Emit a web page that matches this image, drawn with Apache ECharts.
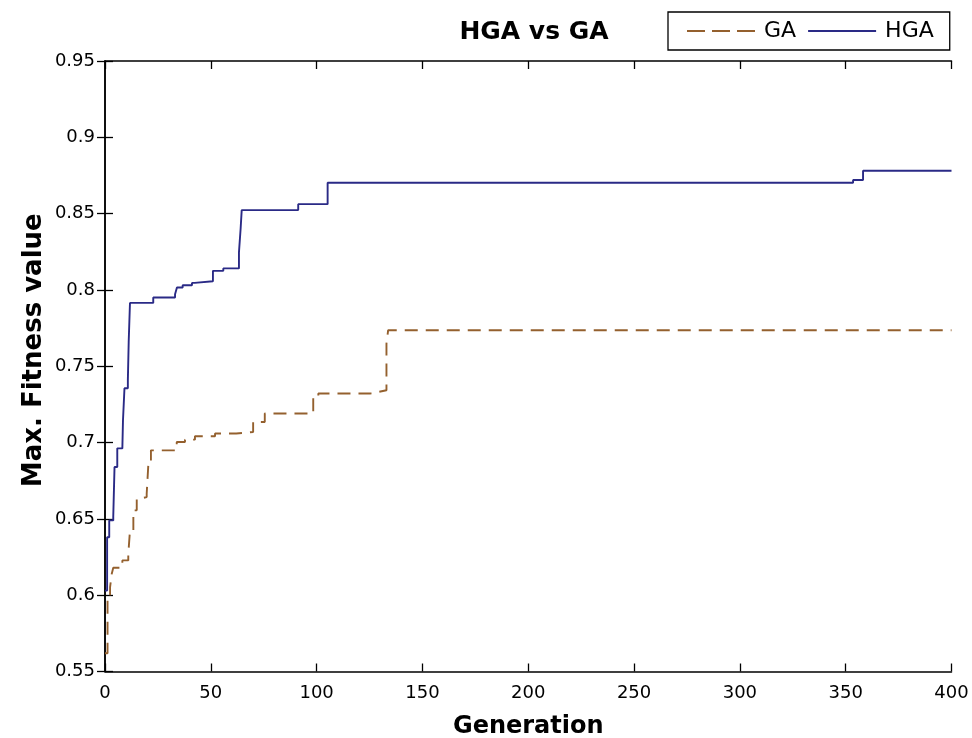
<!DOCTYPE html>
<html>
<head>
<meta charset="utf-8">
<script src="https://cdn.jsdelivr.net/npm/echarts@6/dist/echarts.min.js"></script>
<style>html,body{margin:0;padding:0;background:#fff}#c{width:972px;height:738px}</style>
</head>
<body>
<div id="c"></div>
<script>
var title = 'HGA vs GA';
var xName = 'Generation';
var yName = 'Max. Fitness value';
var seriesNames = ['GA', 'HGA'];

// HGA: generation at which value changes, and new value
var hgaGen = [0, 1, 2, 3.9, 4.5, 5.8, 8.2, 8.5, 9.2, 10.8, 11.2, 11.8, 22.8, 33.1, 34.0, 36.7, 41.1, 42.4, 51, 55.9, 63.3, 64.1, 64.6, 91.3, 105.2, 353.5, 358.2, 400];
var hgaVal = [0.603, 0.638, 0.649, 0.6512, 0.684, 0.6962, 0.6971, 0.7146, 0.7356, 0.7408, 0.766, 0.7915, 0.795, 0.7972, 0.8016, 0.8031, 0.8046, 0.8057, 0.8125, 0.8141, 0.8246, 0.8404, 0.8523, 0.8562, 0.8702, 0.872, 0.8781, 0.8781];

// GA: generation at which value changes, and new value
var gaGen = [0, 1.2, 2.4, 3.2, 3.9, 8.2, 11, 11.8, 13.4, 15, 16.5, 19.7, 20.5, 21.7, 33.9, 37.8, 42.5, 52, 62, 70, 75.5, 98.4, 100.8, 125.2, 129.1, 133, 133.8, 400];
var gaVal = [0.562, 0.5987, 0.6053, 0.6141, 0.618, 0.6228, 0.6267, 0.6425, 0.6556, 0.6632, 0.6643, 0.6665, 0.6862, 0.6949, 0.7004, 0.7019, 0.7041, 0.7059, 0.7069, 0.7135, 0.719, 0.7299, 0.7321, 0.7331, 0.7343, 0.7649, 0.7736, 0.7736];

var xMin = 0, xMax = 400, xStep = 50;
var yMin = 0.55, yMax = 0.95, yStep = 0.05;

function pairs(xs, ys) { return xs.map(function (x, i) { return [x, ys[i]]; }); }

var FONT = 'DejaVu Sans';
var GA_COLOR = '#94602e';
var HGA_COLOR = '#2a2a86';
var axisCommon = {
  type: 'value',
  splitLine: { show: false },
  axisLine: { show: true, lineStyle: { color: '#000', width: 1.5 } },
  axisTick: { show: true, inside: true, length: 8, lineStyle: { color: '#000', width: 1.3 } }
};

var chart = echarts.init(document.getElementById('c'), null, { renderer: 'canvas' });
chart.setOption({
  animation: false,
  backgroundColor: '#fff',
  title: {
    text: title, left: 529, top: 15, textAlign: 'center',
    textStyle: { fontFamily: FONT, fontSize: 25, fontWeight: 'bold', color: '#000' }
  },
  legend: {
    left: 668, top: 12,
    padding: [8, 16, 8, 19],
    itemWidth: 68, itemHeight: 2, itemGap: 12,
    borderColor: '#000', borderWidth: 1.3,
    data: [
      { name: seriesNames[0], icon: 'path://M0,0h18v2h-18z M25,0h18v2h-18z M50,0h18v2h-18z', itemStyle: { color: GA_COLOR } },
      { name: seriesNames[1], icon: 'path://M0,0h68v2h-68z', itemStyle: { color: HGA_COLOR } }
    ],
    textStyle: { fontFamily: FONT, fontSize: 22, color: '#000', padding: [0, 0, 0, 4] }
  },
  grid: { left: 105, right: 20.5, top: 61, bottom: 66.5, containLabel: false, outerBoundsMode: 'none' },
  xAxis: [
    Object.assign({}, axisCommon, {
      position: 'bottom', min: xMin, max: xMax, interval: xStep,
      name: xName, nameLocation: 'middle', nameGap: 43, nameMoveOverlap: false,
      nameTextStyle: { fontFamily: FONT, fontSize: 24, fontWeight: 'bold', color: '#000' },
      axisLabel: { color: '#000', fontFamily: FONT, fontSize: 18, margin: 13 }
    }),
    Object.assign({}, axisCommon, {
      position: 'top', min: xMin, max: xMax, interval: xStep,
      axisLabel: { show: false }
    })
  ],
  yAxis: [
    Object.assign({}, axisCommon, {
      position: 'left', min: yMin, max: yMax, interval: yStep,
      name: yName, nameLocation: 'middle', nameGap: 58, nameMoveOverlap: false,
      nameTextStyle: { fontFamily: FONT, fontSize: 26, fontWeight: 'bold', color: '#000', padding: [0, 0, 0, 32] },
      axisLabel: {
        color: '#000', fontFamily: FONT, fontSize: 18, margin: 10,
        formatter: function (v) { return String(Math.round(v * 100) / 100); }
      }
    }),
    Object.assign({}, axisCommon, {
      position: 'right', min: yMin, max: yMax, interval: yStep,
      axisLabel: { show: false }
    })
  ],
  series: [
    {
      name: 'GA', type: 'line', step: 'end', symbol: 'none', xAxisIndex: 0, yAxisIndex: 0,
      data: pairs(gaGen, gaVal),
      lineStyle: { color: GA_COLOR, width: 1.9, type: [13, 8] },
      itemStyle: { color: GA_COLOR }
    },
    {
      name: 'HGA', type: 'line', step: 'end', symbol: 'none', xAxisIndex: 0, yAxisIndex: 0,
      data: pairs(hgaGen, hgaVal),
      lineStyle: { color: HGA_COLOR, width: 1.9, type: 'solid' },
      itemStyle: { color: HGA_COLOR }
    }
  ]
});
</script>
</body>
</html>
